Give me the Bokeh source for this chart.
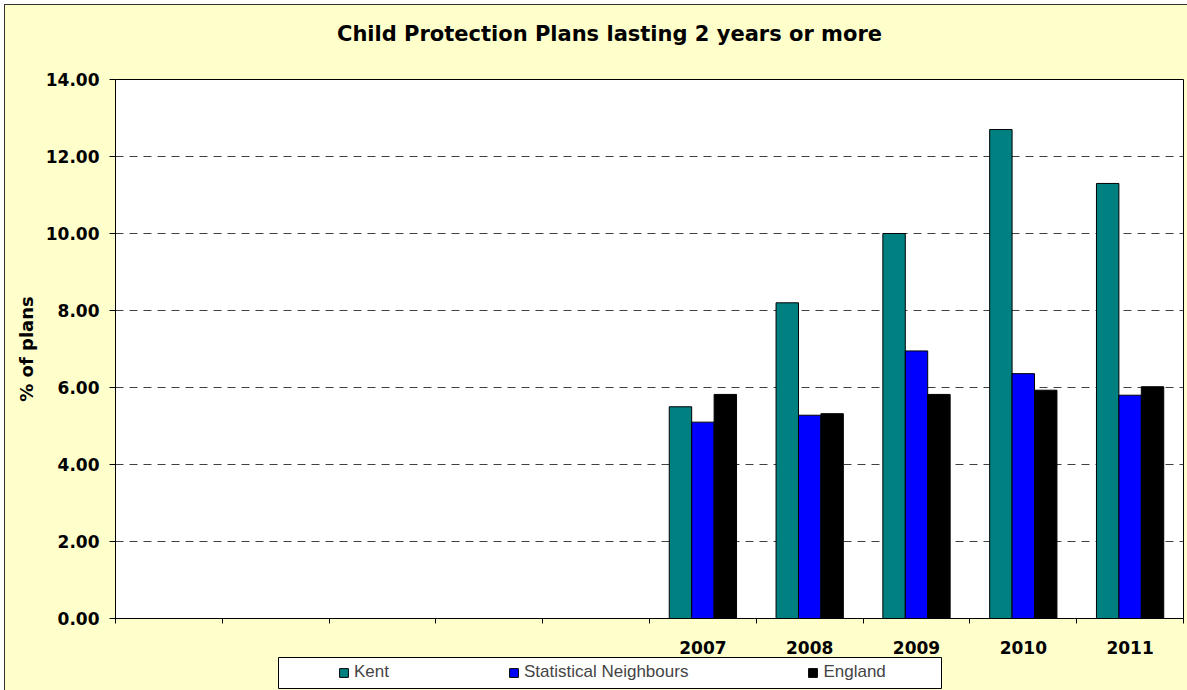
import numpy as np
from bokeh.plotting import figure
from bokeh.layouts import column
from bokeh.models import (ColumnDataSource, FixedTicker, Legend, LegendItem, NumeralTickFormatter,
                          Range1d, BoxAnnotation, Label)
from bokeh.transform import dodge
from bokeh.embed import file_html
from bokeh.resources import INLINE

# ---- data ----
title_text = "Child Protection Plans lasting 2 years or more"
categories = ["", "", "", "", "", "2007", "2008", "2009", "2010", "2011"]
years = ["2007", "2008", "2009", "2010", "2011"]
kent = [5.5, 8.2, 10.0, 12.7, 11.3]
stat_neighbours = [5.1, 5.28, 6.95, 6.36, 5.8]
england = [5.82, 5.32, 5.82, 5.93, 6.02]
y_ticks = [0, 2, 4, 6, 8, 10, 12, 14]
series_names = ["Kent", "Statistical Neighbours", "England"]
series_colors = ["#008080", "#0000FF", "#000000"]

xpos = [categories.index(y) + 0.5 for y in years]
src = ColumnDataSource(dict(x=xpos, kent=kent, sn=stat_neighbours, eng=england))

CREAM = "#FFFFCC"
W = 1182            # figure width (page starts at x=5 after margin+border)
ML, MR = 110, 4     # frame occupies page x 115 .. 1183
FX0, FX1 = 115, 1183


def strip(height, y_top, y_bottom):
    f = figure(width=W, height=height, x_range=Range1d(FX0, FX1), y_range=Range1d(y_bottom, y_top),
               output_backend="svg", toolbar_location=None,
               x_axis_location=None, y_axis_location=None)
    f.min_border_left = ML
    f.min_border_right = MR
    f.min_border_top = 0
    f.min_border_bottom = 0
    f.grid.visible = False
    f.outline_line_color = None
    f.background_fill_color = CREAM
    f.border_fill_color = CREAM
    return f


# ---- title strip (page y 5..60) ----
tf = strip(55, 5, 60)
tf.add_layout(Label(x=609, y=33, text=title_text, text_align="center", text_baseline="middle",
                    text_font="DejaVu Sans", text_font_size="21px", text_font_style="bold",
                    text_color="black"))

# ---- main chart (page y 60..656) ----
p = figure(width=W, height=596, x_range=(0, len(categories)), y_range=(0, 14),
           output_backend="svg", toolbar_location=None)
p.border_fill_color = CREAM
p.background_fill_color = "white"
p.outline_line_color = "black"
p.outline_line_width = 1
p.min_border_left = ML
p.min_border_right = MR
p.min_border_top = 19
p.min_border_bottom = 38

w = 0.21
fields = ["kent", "sn", "eng"]
offsets = [-w, 0.0, w]
for f, off, c in zip(fields, offsets, series_colors):
    p.vbar(x=dodge("x", off, range=p.x_range), top=f, width=w, source=src,
           fill_color=c, line_color="black", line_width=1)

# y axis
p.yaxis.ticker = FixedTicker(ticks=y_ticks)
p.yaxis.formatter = NumeralTickFormatter(format="0.00")
p.yaxis.major_label_text_font = "DejaVu Sans"
p.yaxis.major_label_text_font_style = "bold"
p.yaxis.major_label_text_font_size = "17px"
p.yaxis.major_label_text_color = "black"
p.yaxis.major_tick_out = 6
p.yaxis.major_tick_in = 0
p.yaxis.minor_tick_line_color = None
p.yaxis.major_label_standoff = 10
p.yaxis.axis_line_color = "black"
p.yaxis.axis_label = "% of plans"
p.yaxis.axis_label_text_font = "DejaVu Sans"
p.yaxis.axis_label_text_font_style = "bold"
p.yaxis.axis_label_text_font_size = "18px"
p.yaxis.axis_label_text_color = "black"
p.yaxis.axis_label_standoff = 6

# x axis: labels at category centres, tick marks at category boundaries
p.xaxis.ticker = FixedTicker(ticks=xpos, minor_ticks=list(range(len(categories) + 1)))
p.xaxis.major_label_overrides = {x: y for x, y in zip(xpos, years)}
p.xaxis.major_tick_line_color = None
p.xaxis.major_tick_out = 0
p.xaxis.major_tick_in = 0
p.xaxis.minor_tick_out = 5
p.xaxis.minor_tick_in = 0
p.xaxis.minor_tick_line_color = "black"
p.xaxis.axis_line_color = "black"
p.xaxis.major_label_text_font = "DejaVu Sans"
p.xaxis.major_label_text_font_style = "bold"
p.xaxis.major_label_text_font_size = "17px"
p.xaxis.major_label_text_color = "black"
p.xaxis.major_label_standoff = 17

# grid
p.xgrid.grid_line_color = None
p.ygrid.ticker = FixedTicker(ticks=y_ticks[1:-1])
p.ygrid.grid_line_color = "#404040"
p.ygrid.grid_line_dash = "8 6"
p.ygrid.grid_line_width = 1

# ---- legend strip (page y 656..690) ----
lf = strip(34, 656, 690)
lf.add_layout(BoxAnnotation(left=278, right=941, top=657, bottom=688, fill_color="white",
                            fill_alpha=1, line_color="black", line_width=1, line_alpha=1))
proxies = [lf.vbar(x="x", top=f, width=w, source=src, fill_color=c, line_color="black", visible=False)
           for f, c in zip(fields, series_colors)]
legend = Legend(items=[LegendItem(label=n, renderers=[r]) for n, r in zip(series_names, proxies)],
                orientation="horizontal", location=(338 - FX0, 8), spacing=119,
                label_text_font="Liberation Sans", label_text_font_size="17px",
                glyph_width=11, glyph_height=11, label_standoff=5,
                border_line_color=None, background_fill_alpha=0,
                inactive_fill_alpha=0, padding=0, margin=0, click_policy="none")
lf.add_layout(legend)

layout = column(tf, p, lf, spacing=0,
                styles={"margin-left": "4px", "margin-top": "4px",
                        "border-left": "1px solid #333", "border-top": "1px solid #333",
                        "background-color": CREAM})
html = file_html(layout, INLINE)
open("out.html", "w").write(html)
